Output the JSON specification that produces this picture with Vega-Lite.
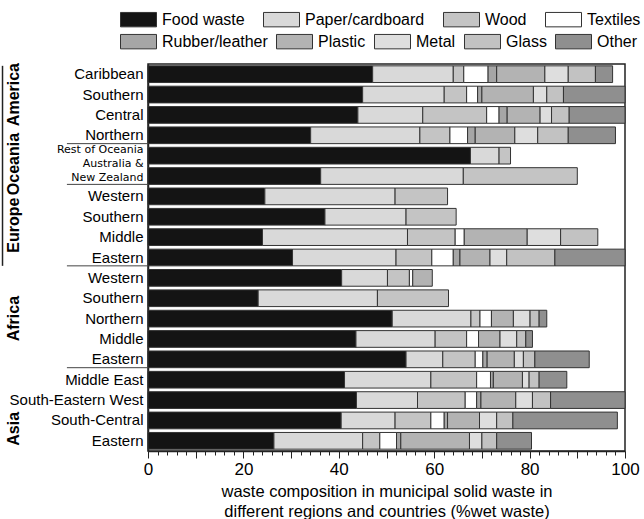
{
  "$schema": "https://vega.github.io/schema/vega-lite/v6.json",
  "width": 477,
  "height": 387,
  "autosize": {"type": "none"},
  "padding": {"left": 148, "top": 64, "right": 19, "bottom": 68},
  "background": "white",
  "config": {"font": "Liberation Sans", "view": {"stroke": "#222", "strokeWidth": 1.5}},
  "datasets": {
    "bars": [
      {"id": "America:Caribbean", "Food waste": 47.1, "Paper/cardboard": 16.9, "Wood": 2.2, "Textiles": 5.1, "Rubber/leather": 1.8, "Plastic": 10.1, "Metal": 4.9, "Glass": 5.7, "Other": 3.6},
      {"id": "America:Southern", "Food waste": 45.0, "Paper/cardboard": 17.1, "Wood": 4.7, "Textiles": 2.3, "Rubber/leather": 0.9, "Plastic": 10.8, "Metal": 2.8, "Glass": 3.5, "Other": 12.9},
      {"id": "America:Central", "Food waste": 44.0, "Paper/cardboard": 13.6, "Wood": 13.4, "Textiles": 2.6, "Rubber/leather": 1.7, "Plastic": 6.9, "Metal": 2.4, "Glass": 3.7, "Other": 11.7},
      {"id": "America:Northern", "Food waste": 34.1, "Paper/cardboard": 22.9, "Wood": 6.3, "Textiles": 3.7, "Rubber/leather": 1.6, "Plastic": 8.3, "Metal": 4.8, "Glass": 6.4, "Other": 9.9},
      {"id": "Oceania:Rest of Oceania", "Food waste": 67.6, "Paper/cardboard": 6.0, "Wood": 2.4},
      {"id": "Oceania:Australia &|New Zealand", "Food waste": 36.2, "Paper/cardboard": 29.9, "Wood": 23.9},
      {"id": "Europe:Western", "Food waste": 24.5, "Paper/cardboard": 27.3, "Wood": 11.0},
      {"id": "Europe:Southern", "Food waste": 37.1, "Paper/cardboard": 17.0, "Wood": 10.5},
      {"id": "Europe:Middle", "Food waste": 24.0, "Paper/cardboard": 30.4, "Wood": 10.0, "Textiles": 1.9, "Plastic": 13.2, "Metal": 7.0, "Glass": 7.8},
      {"id": "Europe:Eastern", "Food waste": 30.3, "Paper/cardboard": 21.7, "Wood": 7.5, "Textiles": 4.5, "Rubber/leather": 1.4, "Plastic": 6.3, "Metal": 3.5, "Glass": 10.1, "Other": 14.7},
      {"id": "Africa:Western", "Food waste": 40.6, "Paper/cardboard": 9.6, "Wood": 4.6, "Textiles": 0.7, "Plastic": 4.1},
      {"id": "Africa:Southern", "Food waste": 23.1, "Paper/cardboard": 25.0, "Wood": 14.9},
      {"id": "Africa:Northern", "Food waste": 51.2, "Paper/cardboard": 16.5, "Wood": 1.9, "Textiles": 2.4, "Plastic": 4.6, "Metal": 3.5, "Glass": 1.9, "Other": 1.6},
      {"id": "Africa:Middle", "Food waste": 43.6, "Paper/cardboard": 16.6, "Wood": 6.6, "Textiles": 2.5, "Plastic": 4.5, "Metal": 3.5, "Glass": 1.9, "Other": 1.4},
      {"id": "Africa:Eastern", "Food waste": 54.1, "Paper/cardboard": 7.7, "Wood": 6.8, "Textiles": 1.6, "Rubber/leather": 0.9, "Plastic": 5.7, "Metal": 1.9, "Glass": 2.4, "Other": 11.4},
      {"id": "Asia:Middle East", "Food waste": 41.2, "Paper/cardboard": 18.1, "Wood": 9.6, "Textiles": 2.9, "Rubber/leather": 0.6, "Plastic": 6.1, "Metal": 1.4, "Glass": 2.1, "Other": 5.8},
      {"id": "Asia:South-Eastern West", "Food waste": 43.7, "Paper/cardboard": 12.8, "Wood": 10.0, "Textiles": 2.4, "Rubber/leather": 0.9, "Plastic": 7.3, "Metal": 3.5, "Glass": 3.8, "Other": 15.6},
      {"id": "Asia:South-Central", "Food waste": 40.5, "Paper/cardboard": 11.3, "Wood": 7.5, "Textiles": 2.8, "Rubber/leather": 0.7, "Plastic": 6.7, "Metal": 3.6, "Glass": 3.4, "Other": 21.9},
      {"id": "Asia:Eastern", "Food waste": 26.4, "Paper/cardboard": 18.6, "Wood": 3.6, "Textiles": 3.5, "Rubber/leather": 0.9, "Plastic": 14.4, "Metal": 2.6, "Glass": 3.1, "Other": 7.3}
    ],
    "groups": [
      {"region": "America", "id": "America:Southern", "pos": "mid"},
      {"region": "Oceania", "id": "Oceania:Rest of Oceania", "pos": "end"},
      {"region": "Europe", "id": "Europe:Southern", "pos": "end"},
      {"region": "Africa", "id": "Africa:Northern", "pos": "mid"},
      {"region": "Asia", "id": "Asia:South-Central", "pos": "end"}
    ],
    "seps": [
      {"id": "America:Northern"},
      {"id": "Oceania:Australia &|New Zealand"},
      {"id": "Europe:Eastern"},
      {"id": "Africa:Eastern"}
    ],
    "bracket": [
      {"top": "America:Caribbean", "bottom": "Europe:Eastern"}
    ]
  },
  "layer": [
    {
      "data": {"name": "bars"},
      "transform": [
        {"fold": ["Food waste", "Paper/cardboard", "Wood", "Textiles", "Rubber/leather", "Plastic", "Metal", "Glass", "Other"]},
        {"filter": "isValid(datum.value)"},
        {"calculate": "indexof(['Food waste','Paper/cardboard','Wood','Textiles','Rubber/leather','Plastic','Metal','Glass','Other'], datum.key)", "as": "order"},
        {"stack": "value", "groupby": ["id"], "sort": [{"field": "order", "order": "ascending"}], "as": ["x0", "x1"]}
      ],
      "encoding": {
        "y": {
          "field": "id", "type": "nominal",
          "scale": {
            "domain": ["America:Caribbean", "America:Southern", "America:Central", "America:Northern", "Oceania:Rest of Oceania", "Oceania:Australia &|New Zealand", "Europe:Western", "Europe:Southern", "Europe:Middle", "Europe:Eastern", "Africa:Western", "Africa:Southern", "Africa:Northern", "Africa:Middle", "Africa:Eastern", "Asia:Middle East", "Asia:South-Eastern West", "Asia:South-Central", "Asia:Eastern"],
            "paddingInner": 0.18, "paddingOuter": 0.09
          },
          "axis": {
            "title": null,
            "labelExpr": "split(split(datum.label, ':')[1], '|')",
            "ticks": false,
            "domainColor": "#222",
            "domainWidth": 1.5,
            "labelFontSize": {"condition": {"test": "indexof(datum.label, 'Oceania:') == 0", "value": 11}, "value": 15},
            "labelFont": {"condition": {"test": "indexof(datum.label, 'Oceania:') == 0", "value": "DejaVu Sans"}, "value": "Liberation Sans"},
            "labelOffset": {"condition": [{"test": "indexof(datum.label, 'Australia') >= 0", "value": -12}, {"test": "indexof(datum.label, 'Rest of') >= 0", "value": -6}], "value": 0},
            "labelLineHeight": 14,
            "labelColor": "black",
            "labelPadding": 5,
            "labelLimit": 200
          }
        },
        "x": {
          "field": "x0", "type": "quantitative",
          "scale": {"domain": [0, 100], "nice": false},
          "axis": {
            "orient": "bottom",
            "values": [0,10,20,30,40,50,60,70,80,90,100],
            "labelExpr": "datum.value % 20 == 0 ? datum.label : ''",
            "labelFlush": false,
            "tickSize": 7,
            "tickColor": "#222",
            "domainColor": "#222",
            "domainWidth": 1.5,
            "grid": false,
            "labelFontSize": 17,
            "labelColor": "black",
            "labelPadding": 3,
            "title": ["waste composition in municipal solid waste in", "different regions and countries (%wet waste)"],
            "titleFontSize": 16.5,
            "titleFontWeight": "normal",
            "titleColor": "black",
            "titlePadding": 6,
            "titleLineHeight": 20
          }
        },
        "x2": {"field": "x1"}
      },
      "layer": [
        {
          "transform": [{"filter": "datum.order < 4"}],
          "mark": {"type": "bar", "stroke": "#333", "strokeWidth": 1},
          "encoding": {
            "color": {
              "field": "key", "type": "nominal",
              "scale": {"domain": ["Food waste", "Paper/cardboard", "Wood", "Textiles"], "range": ["#141414", "#d9d9d9", "#c4c4c4", "#ffffff"]},
              "legend": {"orient": "none", "legendX": -28, "legendY": -63, "direction": "horizontal", "title": null, "padding": 0, "symbolType": "M-1,-0.4H1V0.4H-1Z", "symbolSize": 1296, "symbolStrokeColor": "#333", "symbolStrokeWidth": 1, "symbolOpacity": 1, "labelFontSize": 16, "labelColor": "black", "labelOffset": 5, "columnPadding": 16, "labelLimit": 300}
            }
          }
        },
        {
          "transform": [{"filter": "datum.order >= 4"}],
          "mark": {"type": "bar", "stroke": "#333", "strokeWidth": 1},
          "encoding": {
            "color": {
              "field": "key", "type": "nominal",
              "scale": {"domain": ["Rubber/leather", "Plastic", "Metal", "Glass", "Other"], "range": ["#a6a6a6", "#b3b3b3", "#dedede", "#c2c2c2", "#8f8f8f"]},
              "legend": {"orient": "none", "legendX": -28, "legendY": -41, "direction": "horizontal", "title": null, "padding": 0, "symbolType": "M-1,-0.4H1V0.4H-1Z", "symbolSize": 1296, "symbolStrokeColor": "#333", "symbolStrokeWidth": 1, "symbolOpacity": 1, "labelFontSize": 16, "labelColor": "black", "labelOffset": 5, "columnPadding": 6, "labelLimit": 300}
            }
          }
        }
      ],
      "resolve": {"scale": {"color": "independent"}, "legend": {"color": "independent"}}
    },
    {
      "data": {"name": "groups"},
      "transform": [{"filter": "datum.pos == 'mid'"}],
      "mark": {"type": "text", "angle": 270, "align": "center", "baseline": "middle", "fontSize": 16, "fontWeight": "bold", "color": "black"},
      "encoding": {
        "y": {"field": "id", "type": "nominal", "bandPosition": 0.5},
        "x": {"datum": -28, "axis": null},
        "text": {"field": "region"}
      }
    },
    {
      "data": {"name": "groups"},
      "transform": [{"filter": "datum.pos == 'end'"}],
      "mark": {"type": "text", "angle": 270, "align": "center", "baseline": "middle", "fontSize": 16, "fontWeight": "bold", "color": "black"},
      "encoding": {
        "y": {"field": "id", "type": "nominal", "bandPosition": 1},
        "x": {"datum": -28, "axis": null},
        "text": {"field": "region"}
      }
    },
    {
      "data": {"name": "bracket"},
      "mark": {"type": "rule", "color": "#222", "strokeWidth": 1.5},
      "encoding": {
        "y": {"field": "top", "type": "nominal", "bandPosition": 0},
        "y2": {"field": "bottom", "bandPosition": 1},
        "x": {"datum": -30.5, "axis": null}
      }
    },
    {
      "data": {"name": "seps"},
      "mark": {"type": "rule", "color": "#444", "strokeWidth": 1},
      "encoding": {
        "y": {"field": "id", "type": "nominal", "bandPosition": 1},
        "x": {
          "datum": -17,
          "axis": {
            "orient": "bottom",
            "values": [2,4,6,8,12,14,16,18,22,24,26,28,32,34,36,38,42,44,46,48,52,54,56,58,62,64,66,68,72,74,76,78,82,84,86,88,92,94,96,98],
            "labels": false, "domain": false, "grid": false, "title": null,
            "tickSize": 4, "tickColor": "#222", "tickWidth": 1
          }
        },
        "x2": {"datum": 0}
      }
    }
  ],
  "resolve": {"scale": {"color": "independent"}, "legend": {"color": "independent"}, "axis": {"x": "independent"}}
}
